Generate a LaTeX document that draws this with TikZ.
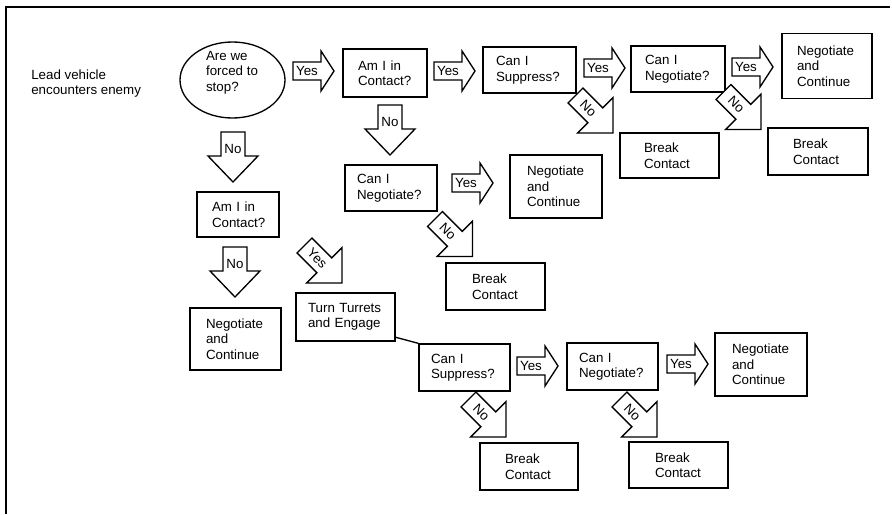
\documentclass[tikz,border=0pt]{standalone}
\usepackage{fontspec}
\setmainfont{Liberation Sans}
\usetikzlibrary{shapes.geometric}
\tikzset{
  txt/.style={font=\fontsize{10}{11.6}\selectfont, align=left, inner sep=0pt},
  box/.style={draw, line width=1pt, rectangle, align=left, inner ysep=0pt, font=\fontsize{10}{11.6}\selectfont},
  arr/.style={draw, line width=1pt, line join=miter, fill=white},
  lab/.style={inner sep=0pt, font=\fontsize{10}{11.6}\selectfont},
  frame/.style={line width=1.5pt},
  link/.style={line width=1pt},
}
\newcommand\bx[7]{%
  \pgfmathsetlengthmacro\bxtw{(#4-2*#6)*0.75pt}%
  \pgfmathsetlengthmacro\bxin{#6*0.75pt}%
  \pgfmathsetlengthmacro\bxh{#5*0.75pt}%
  \node[box, text width=\bxtw, inner xsep=\bxin, minimum height=\bxh] (#1) at (#2,#3) {#7};}
\newcommand\yesarr[3]{%
  \begin{scope}[shift={(#2,#3)}]
    \draw[arr] (0,-9) -- (28,-9) -- (28,-20) -- (41,0) -- (28,20) -- (28,9) -- (0,9) -- cycle;
    \node[lab] (#1) at (14,0) {Yes};
  \end{scope}}
\newcommand\downarr[3]{%
  \begin{scope}[shift={(#2,#3)}, rotate=-90]
    \draw[arr] (0,-12) -- (24,-12) -- (24,-25) -- (50,0) -- (24,25) -- (24,12) -- (0,12) -- cycle;
    \node[lab] (#1) at (17,0) {No};
  \end{scope}}
\newcommand\diagarr[4]{%
  \begin{scope}[shift={(#2,#3)}, rotate=-45]
    \draw[arr] (0,-10.5) -- (28,-10.5) -- (28,-25) -- (53,0) -- (28,25) -- (28,10.5) -- (0,10.5) -- cycle;
    \node[lab, rotate=-45] (#1) at (18,0) {#4};
  \end{scope}}
\begin{document}
\begin{tikzpicture}[x=0.75pt, y=-0.75pt]
\useasboundingbox (0,0) rectangle (892,514);
\draw[frame] (6,514) -- (6,7) -- (890,7);

\node[txt, anchor=west] (lead) at (31,83.5) {Lead vehicle\\encounters enemy};

\node[draw, ellipse, line width=1pt, minimum width=78.75pt, minimum height=57pt, inner sep=0pt] (stop) at (232.5,80) {};
\node[txt] (stoptxt) at (232,72.5) {Are~we\\forced~to\\stop?};

% top row
\yesarr{y1}{293}{71}
\bx{c1}{385}{73}{84}{48}{15}{Am~I~in\\Contact?}
\yesarr{y2}{434}{71}
\bx{s1}{529.5}{70}{93}{46}{13}{Can~I\\Suppress?}
\yesarr{y3}{584}{68}
\bx{n1}{678}{69}{94}{46}{14}{Can~I\\Negotiate?}
\yesarr{y4}{732}{67}
\bx{nc1}{827}{66}{90}{65}{15}{Negotiate\\and\\Continue}
\diagarr{no1}{575.5}{95.5}{No}
\bx{bc1}{669.5}{155.5}{99}{45}{24}{Break\\Contact}
\diagarr{no2}{723.5}{92}{No}
\bx{bc2}{818}{151.5}{100}{47}{25}{Break\\Contact}

% second column
\downarr{no3}{390}{105}
\bx{n2}{391}{188}{92}{46}{12}{Can~I\\Negotiate?}
\yesarr{y5}{452}{183}
\bx{nc2}{556}{186.5}{92}{63}{17}{Negotiate\\and\\Continue}
\diagarr{no4}{435}{219}{No}
\bx{bc3}{495.5}{286.5}{99}{47}{26}{Break\\Contact}

% left column
\downarr{no5}{233}{132}
\bx{c2}{238}{214.5}{82}{45}{15}{Am~I~in\\Contact?}
\downarr{no6}{235}{247}
\bx{nc3}{235.5}{339}{91}{62}{16}{Negotiate\\and\\Continue}
\diagarr{y6}{304.5}{245.5}{Yes}
\bx{tt}{345.5}{317}{99}{48}{12}{Turn~Turrets\\and~Engage}

% bottom row
\bx{s2}{464.5}{367.5}{91}{47}{12}{Can~I\\Suppress?}
\draw[link] (tt.-22) -- (s2.north west);
\yesarr{y7}{517}{366}
\bx{n3}{612.5}{366.5}{91}{47}{12}{Can~I\\Negotiate?}
\yesarr{y8}{667}{364}
\bx{nc4}{761}{364.5}{92}{63}{17}{Negotiate\\and\\Continue}
\diagarr{no7}{468.5}{399.5}{No}
\bx{bc4}{529}{466.5}{98}{47}{25}{Break\\Contact}
\diagarr{no8}{619.5}{399.5}{No}
\bx{bc5}{678.5}{465}{99}{46}{26}{Break\\Contact}
\end{tikzpicture}
\end{document}
